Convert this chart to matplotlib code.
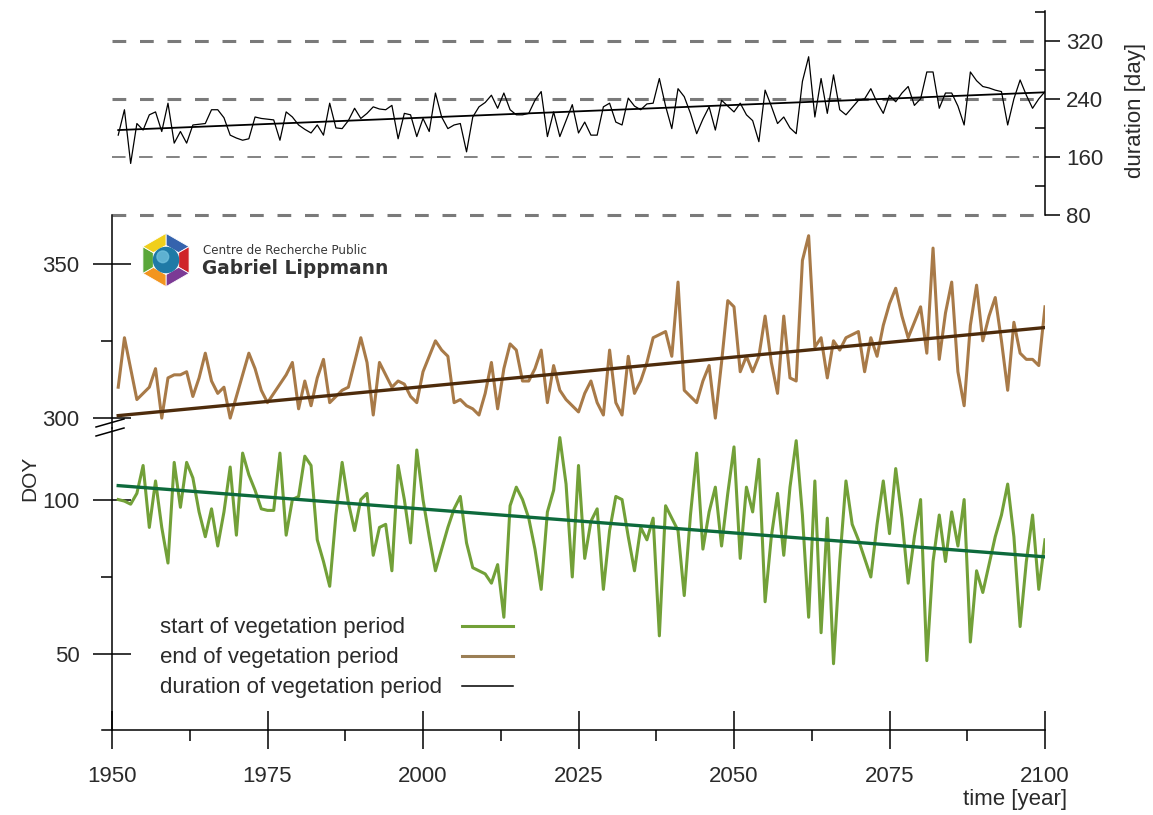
import matplotlib
matplotlib.use("Agg")
import matplotlib.pyplot as plt
from matplotlib.patches import Polygon, Circle
import numpy as np

W, H = 1153, 815
plt.rcParams['font.family'] = ['Liberation Sans', 'DejaVu Sans']

# ---- data ----
years = list(range(1951, 2101))

start_doy = [
    100, 99.5, 98.5, 102, 111, 91, 106, 91, 79.5, 112,
    97.5, 112, 107, 96, 88, 97, 85, 96, 110.5, 88.5,
    115, 108, 103, 97, 96.5, 96.5, 115, 88.5, 100, 101,
    114, 111, 87, 80, 72, 95, 112, 99, 90, 100,
    102, 82, 91, 92, 77, 111, 100, 86, 116, 100,
    88, 77, 84, 91, 97, 101, 86, 78, 77, 76,
    73, 79, 62, 98, 104, 100, 94, 84, 71, 96,
    103, 120, 105, 75, 111, 81, 93, 97, 71, 90,
    101, 100, 88, 77, 91, 87, 94, 56, 98, 94,
    90, 69, 95, 115, 84, 96, 104, 85, 102, 117,
    81, 104, 96, 113, 67, 88, 102, 82, 104, 119,
    95, 62, 106, 57, 94, 47, 80, 106, 92, 87,
    81, 75, 92, 106, 89, 110, 94, 73, 88, 100,
    48, 80, 95, 80, 96, 85, 100, 54, 77, 70,
    79, 88, 95, 105, 88, 59, 80, 95, 71, 87,
]

end_doy = [
    310, 326, 316, 306, 308, 310, 316, 300, 313, 314,
    314, 315, 307, 313, 321, 312, 308, 310, 300, 307,
    314, 321, 316, 309, 305, 308, 311, 314, 318, 303,
    312, 304, 313, 319, 305, 307, 309, 310, 318, 326,
    318, 301, 318, 314, 310, 312, 311, 307, 305, 315,
    320, 325, 322, 320, 305, 306, 304, 303, 301, 308,
    318, 303, 316, 324, 322, 312, 312, 316, 322, 305,
    317, 309, 306, 304, 302, 308, 312, 305, 301, 322,
    305, 301, 320, 308, 312, 318, 326, 327, 328, 320,
    344, 309, 307, 305, 312, 317, 300, 318, 338, 336,
    315, 320, 315, 320, 333, 318, 308, 333, 313, 312,
    351, 359, 323, 326, 313, 325, 322, 326, 327, 328,
    315, 326, 320, 330, 337, 342, 333, 326, 331, 336,
    321, 355, 319, 334, 344, 315, 304, 330, 343, 325,
    333, 339, 325, 309, 331, 321, 319, 319, 317, 336,
]

duration = [
    190, 225, 151, 206, 197, 218, 222, 195, 234, 179,
    195, 179, 204, 205, 206, 225, 225, 214, 190, 186,
    183, 185, 215, 213, 212, 211, 183, 222, 215, 204,
    198, 193, 204, 190, 234, 200, 199, 210, 227, 213,
    220, 229, 226, 225, 231, 185, 220, 218, 188, 213,
    195, 248, 215, 199, 204, 206, 167, 215, 229, 235,
    245, 227, 248, 225, 218, 218, 220, 238, 250, 188,
    222, 188, 210, 232, 193, 208, 190, 190, 229, 234,
    208, 204, 241, 230, 225, 233, 234, 268, 230, 199,
    254, 243, 220, 192, 212, 229, 197, 238, 230, 222,
    234, 218, 210, 181, 252, 230, 206, 215, 200, 192,
    264, 298, 215, 268, 220, 273, 225, 218, 228, 238,
    240, 254, 235, 220, 245, 236, 248, 257, 231, 240,
    277, 277, 227, 248, 248, 230, 204, 277, 265, 257,
    255, 252, 250, 204, 240, 266, 245, 227, 240, 250,
]

trend_years = [1951, 2100]
start_trend = [104.5, 81.5]
end_trend = [300.8, 329.3]
duration_trend = [197, 249]

year_ticks = [1950, 1975, 2000, 2025, 2050, 2075, 2100]
year_minor = [1962.5, 1987.5, 2012.5, 2037.5, 2062.5, 2087.5]
duration_ticks = [80, 160, 240, 320]
duration_minor = [120, 200, 280, 360]
end_ticks = [300, 350]
end_minor = [325]
start_ticks = [50, 100]
start_minor = [75]

legend_labels = ['start of vegetation period', 'end of vegetation period',
                 'duration of vegetation period']

GREEN = '#72a038'
GREEN_TREND = '#0d6a3c'
BROWN = '#a87a48'
BROWN_TREND = '#4e2c0c'
TXT = '#2a2a2a'


def box(x0, y0, x1, y1):
    # pixel box (top-left origin) -> figure rect
    return [x0 / W, 1 - y1 / H, (x1 - x0) / W, (y1 - y0) / H]


def fx(x):
    return x / W


def fy(y):
    return 1 - y / H


fig = plt.figure(figsize=(W / 100, H / 100), dpi=100)
ax_d = fig.add_axes(box(102, 11, 1045, 215))
ax_e = fig.add_axes(box(102, 215, 1045, 428))
ax_s = fig.add_axes(box(102, 428, 1045, 730))

xlim = (1950 - 10 / 6.22, 2100)
for ax in (ax_d, ax_e, ax_s):
    ax.set_xlim(*xlim)
    ax.patch.set_alpha(0)
    for side in ('top', 'right', 'left', 'bottom'):
        ax.spines[side].set_visible(False)
    ax.tick_params(bottom=False, labelbottom=False, left=False, labelleft=False)

# ---- top panel: duration ----
ax_d.set_ylim(80, 361)
for v in duration_ticks:
    thin = v == 160
    ax_d.hlines(v, 1950, 2099, colors='#7a7a7a', lw=1.3 if thin else 2.2,
                linestyles=(0, (7.5, 7.5)) if thin else (0, (4.5, 4.5)),
                zorder=1, clip_on=False)
ax_d.plot(years, duration, color='black', lw=0.9, zorder=3)
ax_d.plot(trend_years, duration_trend, color='black', lw=1.3, zorder=4)
ax_d.spines['right'].set_visible(True)
ax_d.spines['right'].set_linewidth(1.1)
ax_d.spines['right'].set_bounds(80, 361)
ax_d.yaxis.tick_right()
ax_d.set_yticks(duration_ticks)
ax_d.set_yticks(duration_minor, minor=True)
ax_d.tick_params(axis='y', which='major', right=True, labelright=True, direction='out',
                 length=11, width=1.1, pad=4, labelsize=16, labelcolor=TXT)
ax_d.tick_params(axis='y', which='minor', right=True, direction='in', length=7, width=1.1)

# ---- end of vegetation period (upper part of DOY axis) ----
ax_e.set_ylim(296.8, 365.7)
ax_e.plot(years, end_doy, color=BROWN, lw=2.2, zorder=3)
ax_e.plot(trend_years, end_trend, color=BROWN_TREND, lw=2.4, zorder=4)

# ---- start of vegetation period (lower part) ----
ax_s.set_ylim(25.6, 123.1)
ax_s.plot(years, start_doy, color=GREEN, lw=2.2, zorder=3)
ax_s.plot(trend_years, start_trend, color=GREEN_TREND, lw=2.4, zorder=4)

for ax, major, minor in ((ax_e, end_ticks, end_minor), (ax_s, start_ticks, start_minor)):
    ax.spines['left'].set_visible(True)
    ax.spines['left'].set_position(('data', 1950))
    ax.spines['left'].set_linewidth(1.1)
    ax.set_yticks(major)
    ax.set_yticks(minor, minor=True)
    ax.tick_params(axis='y', which='major', left=True, labelleft=True, direction='inout',
                   length=27, width=1.1, pad=10, labelsize=16, labelcolor=TXT)
    ax.tick_params(axis='y', which='minor', left=True, direction='out', length=8, width=1.1)

ax_s.spines['bottom'].set_visible(True)
ax_s.spines['bottom'].set_linewidth(1.1)
ax_s.set_xticks(year_ticks)
ax_s.set_xticks(year_minor, minor=True)
ax_s.tick_params(axis='x', which='major', bottom=True, labelbottom=True, direction='inout',
                 length=28, width=1.1, pad=12, labelsize=16, labelcolor=TXT)
ax_s.tick_params(axis='x', which='minor', bottom=True, direction='out', length=8, width=1.1)

# axis break marks
for yb in (423, 432):
    fig.add_artist(plt.Line2D([fx(96), fx(124)], [fy(yb + 4), fy(yb - 4)],
                              color='black', lw=1.1))

# axis titles
fig.text(fx(30), fy(478), 'DOY', rotation=90, ha='center', va='center',
         fontsize=15, color=TXT)
fig.text(fx(1136), fy(110), 'duration [day]', rotation=90, ha='center', va='center',
         fontsize=16, color=TXT)
fig.text(fx(1015), fy(800), 'time [year]', ha='center', va='center',
         fontsize=16, color=TXT)

# legend (text first, key line in a column on the right)
legend_colors = [GREEN, '#9b7f55', 'black']
legend_widths = [2.2, 2.2, 1.1]
for i, (lab, c, lw) in enumerate(zip(legend_labels, legend_colors, legend_widths)):
    yc = 627 + 30 * i
    fig.text(fx(160), fy(yc), lab, ha='left', va='center', fontsize=16, color=TXT)
    fig.add_artist(plt.Line2D([fx(462), fx(513)], [fy(yc - 1), fy(yc - 1)],
                              color=c, lw=lw))

# logo
ax_logo = fig.add_axes(box(138, 232, 194, 288))
ax_logo.set_xlim(-1.05, 1.05)
ax_logo.set_ylim(-1.05, 1.05)
ax_logo.set_aspect('equal')
ax_logo.axis('off')
seg_colors = ['#3563ad', '#cf2329', '#7b3a95', '#f2951f', '#5aa73a', '#f0cf1c']
angles = np.radians([90, 30, -30, -90, -150, 150, 90])
for k, c in enumerate(seg_colors):
    a0, a1 = angles[k], angles[k + 1]
    pts = [(np.cos(a0), np.sin(a0)), (np.cos(a1), np.sin(a1)),
           (0.55 * np.cos(a1), 0.55 * np.sin(a1)), (0.55 * np.cos(a0), 0.55 * np.sin(a0))]
    ax_logo.add_patch(Polygon(pts, closed=True, facecolor=c, edgecolor='white', lw=0.6))
ax_logo.add_patch(Circle((0, 0), 0.47, color='#1f7aa6'))
ax_logo.add_patch(Circle((-0.12, 0.12), 0.22, color='#6fc0dd', alpha=0.8))
fig.text(fx(203), fy(250), 'Centre de Recherche Public', ha='left', va='center',
         fontsize=8.6, color='#383838', family='DejaVu Sans')
fig.text(fx(202), fy(269), 'Gabriel Lippmann', ha='left', va='center',
         fontsize=13.4, fontweight='bold', color='#333333', family='DejaVu Sans')

fig.savefig('out.png', dpi=100, facecolor='white')
